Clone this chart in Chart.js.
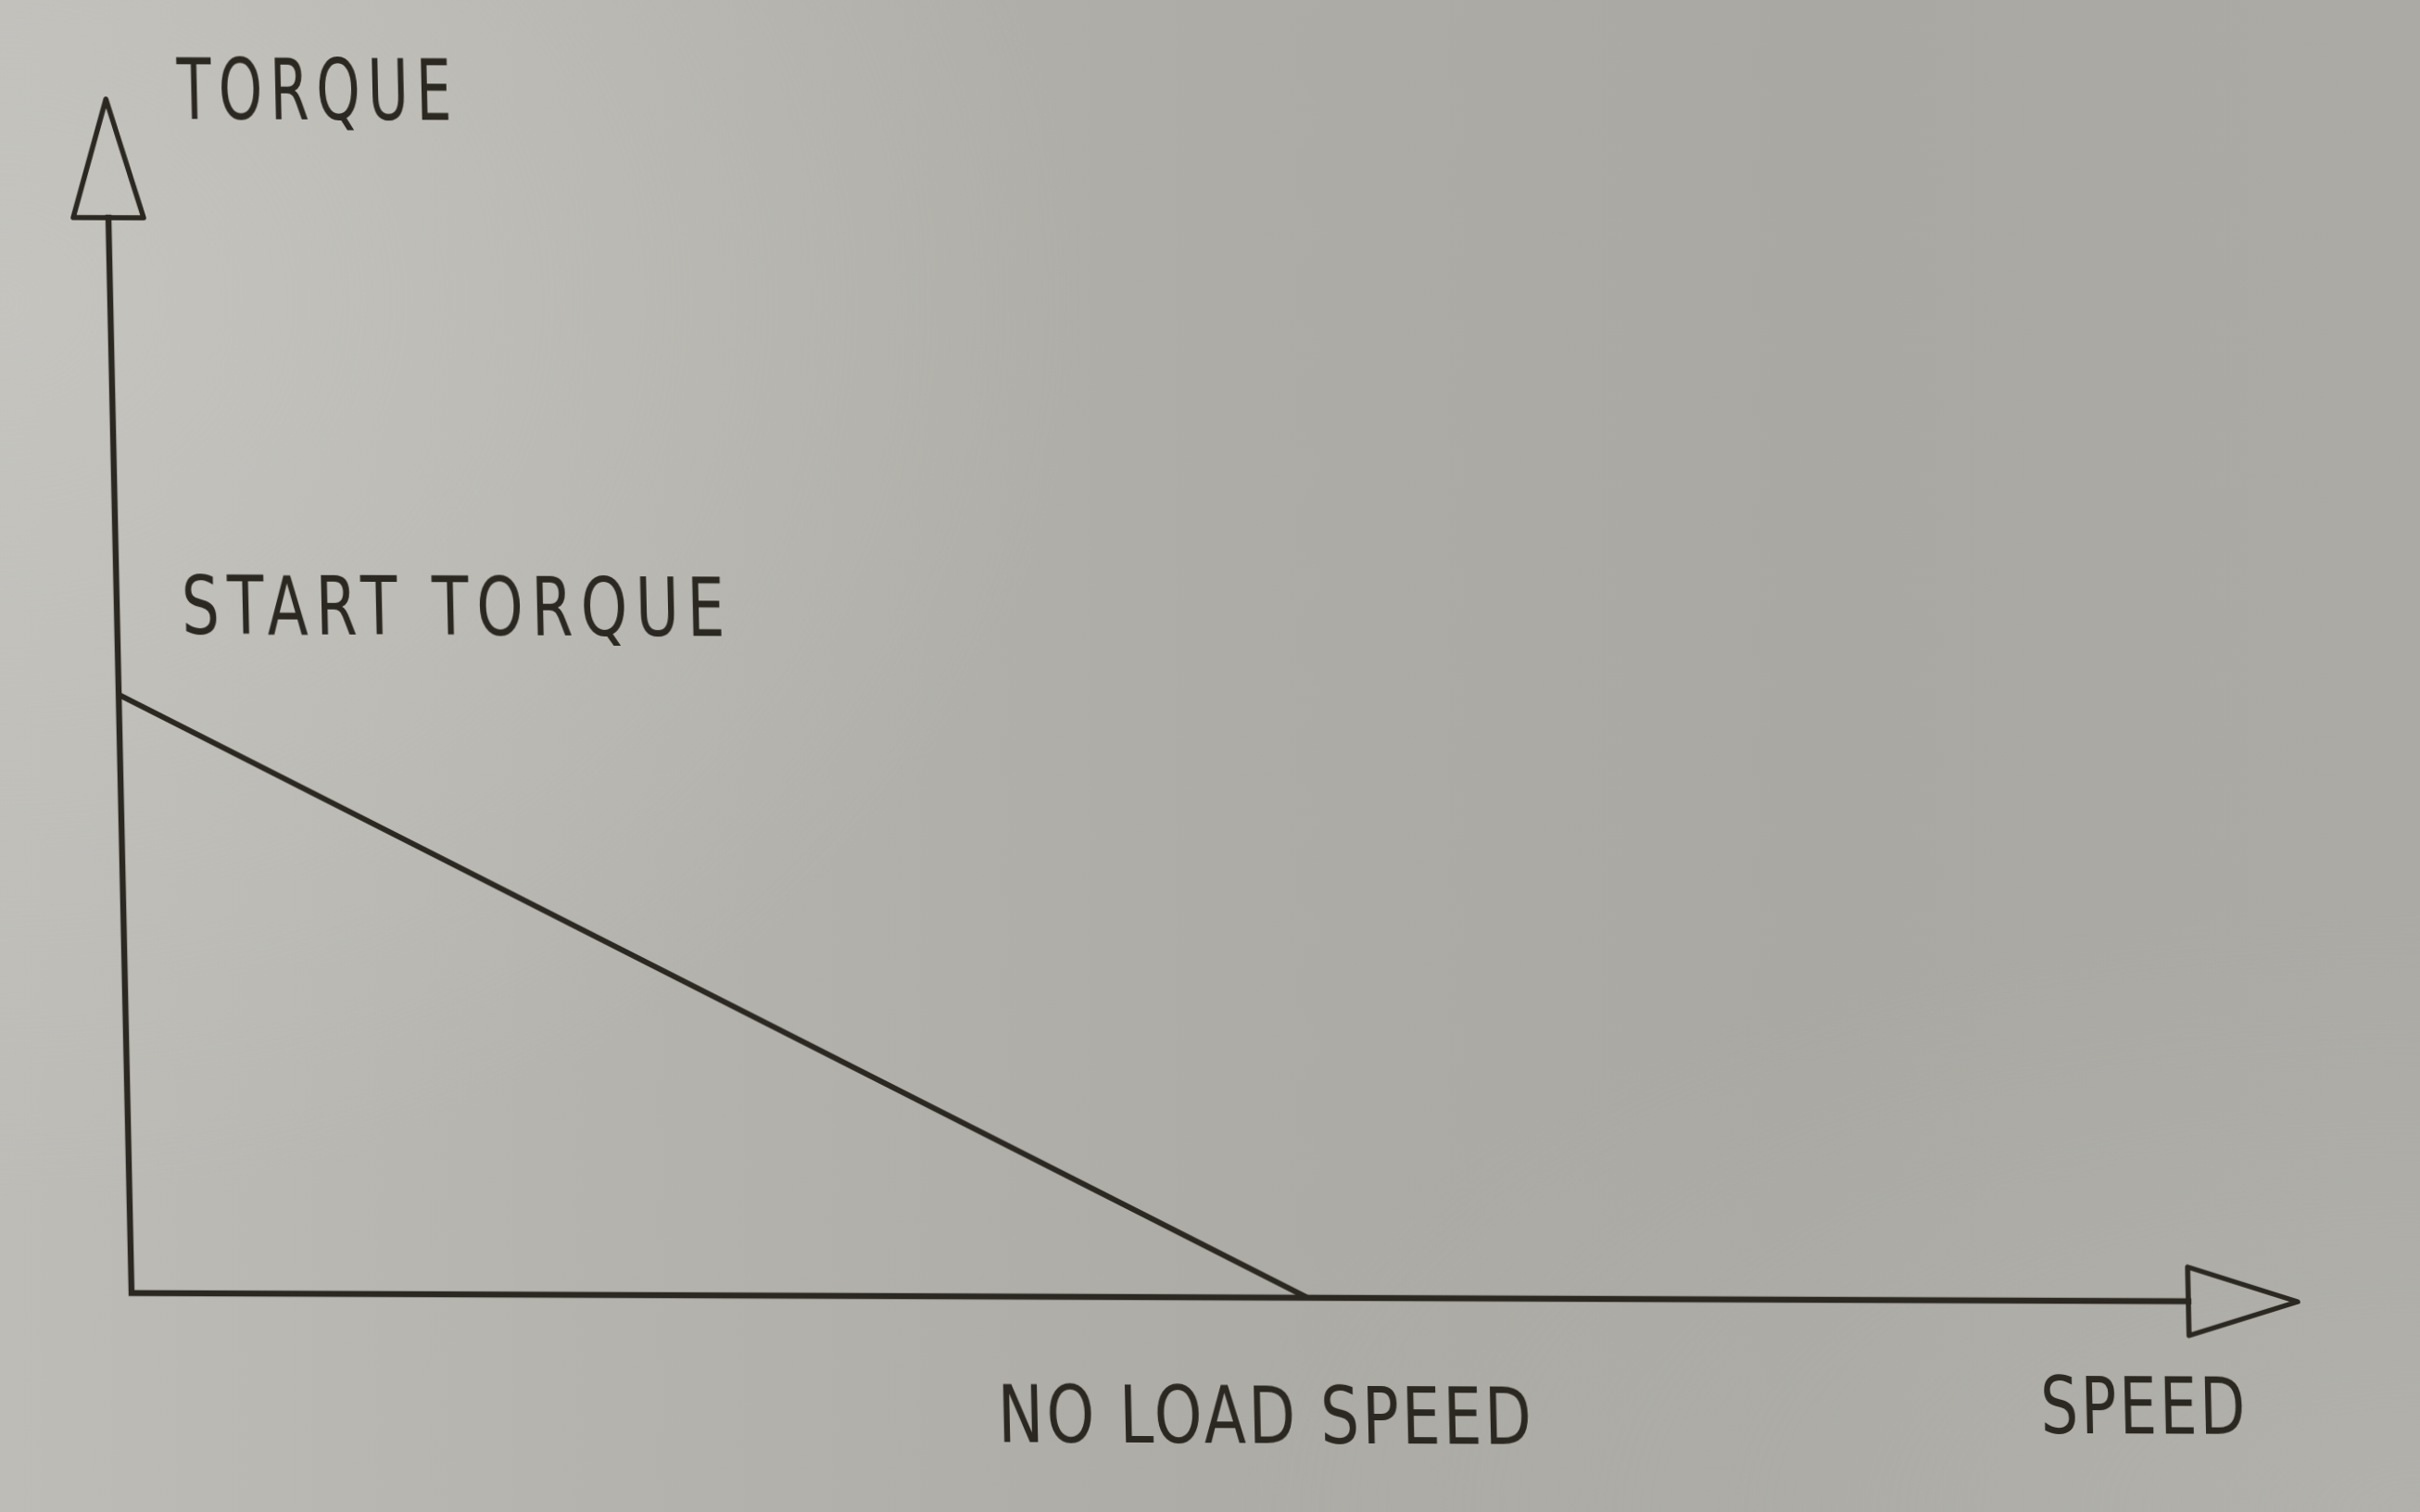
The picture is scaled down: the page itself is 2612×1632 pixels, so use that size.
<!DOCTYPE html>
<html>
<head>
<meta charset="utf-8">
<script src="https://cdn.jsdelivr.net/npm/chart.js@4.4.1/dist/chart.umd.min.js"></script>
<style>
  html, body { margin: 0; padding: 0; width: 2612px; height: 1632px; overflow: hidden; }
  body {
    background:
      radial-gradient(ellipse 45% 60% at 0% 20%, rgba(200,199,194,0.7) 0%, rgba(200,199,194,0) 100%),
      radial-gradient(ellipse 50% 40% at 100% 100%, rgba(185,184,179,0.5) 0%, rgba(185,184,179,0) 100%),
      linear-gradient(to right, #bdbcb7 0%, #b4b3ad 25%, #adaca6 50%, #a9a8a2 75%, #abaaa5 100%);
  }
  #c { position: absolute; left: 0; top: 0;
       transform-origin: 142px 1396px;
       transform: matrix(1, 0.004, 0.0215, 1, 0, 0); }
</style>
</head>
<body>
<canvas id="c" width="2612" height="1632"></canvas>
<script>
// ---- data ----
const speedValues  = [0, 1];      // normalized speed (1 = no load speed)
const torqueValues = [1, 0];      // normalized torque (1 = start torque)
const xAxisLabel = "SPEED";
const yAxisLabel = "TORQUE";
const startLabel = "START TORQUE";
const noLoadLabel = "NO LOAD SPEED";

const INK = "#2b2721";
const FONT = "'DejaVu Sans', sans-serif";

function fitText(ctx, text, x, y, size, width, spacing) {
  ctx.save();
  ctx.font = size + "px " + FONT;
  if ("letterSpacing" in ctx) ctx.letterSpacing = spacing + "px";
  const w = ctx.measureText(text).width - (("letterSpacing" in ctx) ? spacing : 0);
  ctx.translate(x, y);
  ctx.scale(width / w, 1);
  ctx.fillText(text, 0, 0);
  ctx.restore();
}

const axesPlugin = {
  id: "axesArrows",
  afterDatasetsDraw(chart) {
    const ctx = chart.ctx;
    const xs = chart.scales.x, ys = chart.scales.y;
    const x0 = xs.getPixelForValue(xs.min);
    const xEnd = xs.getPixelForValue(xs.max);
    const y0 = ys.getPixelForValue(ys.min);
    const yEnd = ys.getPixelForValue(ys.max);
    ctx.save();
    ctx.strokeStyle = INK;
    ctx.lineWidth = 6.5;
    ctx.lineJoin = "miter";
    ctx.lineCap = "square";
    ctx.beginPath();
    ctx.moveTo(x0, yEnd);
    ctx.lineTo(x0, y0);
    ctx.lineTo(xEnd, y0);
    ctx.stroke();
    // y arrow head (open triangle)
    ctx.lineWidth = 5.5;
    ctx.lineJoin = "round";
    const hw = 38, hl = 128;
    ctx.beginPath();
    ctx.moveTo(x0 - hw, yEnd);
    ctx.lineTo(x0 + hw, yEnd);
    ctx.lineTo(x0, yEnd - hl);
    ctx.closePath();
    ctx.stroke();
    // x arrow head
    const vw = 37, vl = 118;
    ctx.beginPath();
    ctx.moveTo(xEnd, y0 - vw);
    ctx.lineTo(xEnd, y0 + vw);
    ctx.lineTo(xEnd + vl, y0);
    ctx.closePath();
    ctx.stroke();

    // texts
    ctx.fillStyle = INK;
    ctx.textBaseline = "alphabetic";
    ctx.textAlign = "left";
    fitText(ctx, yAxisLabel, x0 + 77, yEnd - 107, 90, 296, 12);
    fitText(ctx, xAxisLabel, xEnd - 162, y0 + 143, 86, 221, 4);
    const ps = xs.getPixelForValue(speedValues[0]);
    const pt = ys.getPixelForValue(torqueValues[0]);
    fitText(ctx, startLabel, ps + 70, pt - 66, 88, 586, 12);
    const nx = xs.getPixelForValue(speedValues[1]);
    const ny = ys.getPixelForValue(torqueValues[1]);
    fitText(ctx, noLoadLabel, nx - 337, ny + 157, 86, 576, 4);
    ctx.restore();
  }
};

new Chart(document.getElementById("c"), {
  type: "scatter",
  data: {
    datasets: [{
      data: speedValues.map((s, i) => ({ x: s, y: torqueValues[i] })),
      showLine: true,
      borderColor: INK,
      borderWidth: 6,
      pointRadius: 0,
      fill: false,
      tension: 0
    }]
  },
  options: {
    responsive: false,
    devicePixelRatio: 1,
    animation: false,
    layout: { padding: { left: 142, top: 235, right: 250, bottom: 236 } },
    plugins: { legend: { display: false }, tooltip: { enabled: false }, title: { display: false } },
    scales: {
      x: { type: "linear", display: false, min: 0, max: 1.749 },
      y: { type: "linear", display: false, min: 0, max: 1.797 }
    }
  },
  plugins: [axesPlugin]
});
</script>
</body>
</html>
